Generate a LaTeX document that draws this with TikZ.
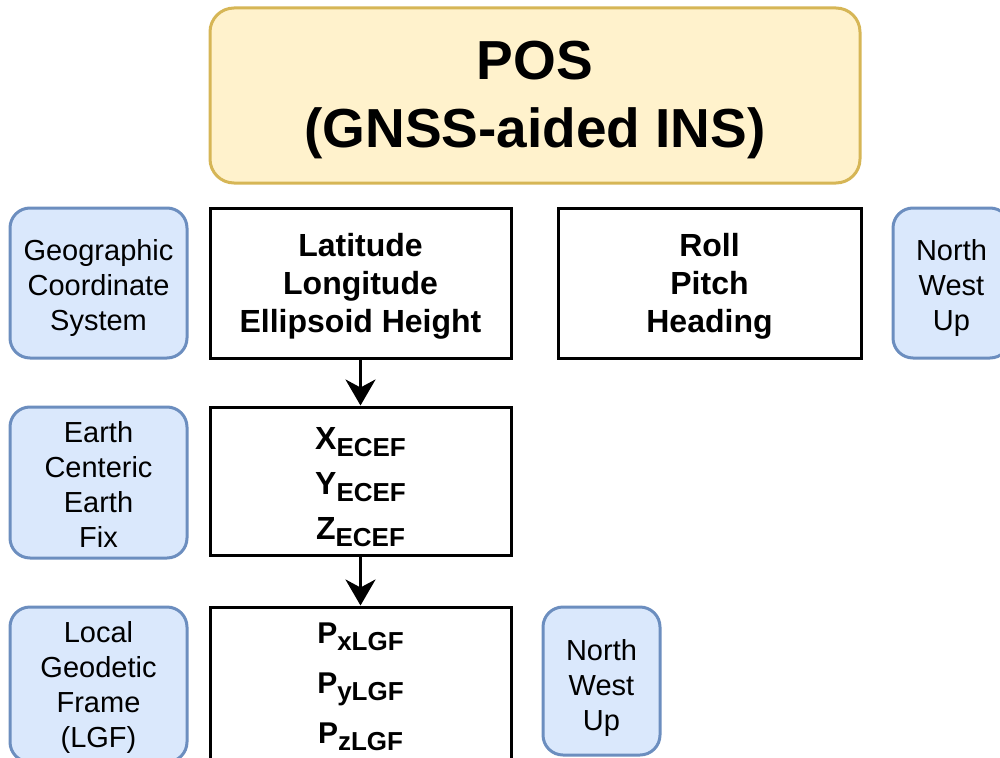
\documentclass[tikz,border=0pt]{standalone}
\usepackage{fontspec}
\setmainfont{Liberation Sans}
\usepackage{tikz}
\usetikzlibrary{arrows.meta}

\definecolor{posfill}{HTML}{FFF2CC}
\definecolor{posline}{HTML}{D6B656}
\definecolor{reffill}{HTML}{DAE8FC}
\definecolor{refline}{HTML}{6C8EBF}

\newcommand{\subx}[1]{\raisebox{-7pt}{\fontsize{26}{26}\selectfont #1}}
\newcommand{\lift}[1]{\rule{0pt}{#1}}

\tikzset{
  posbox/.style={draw=posline, fill=posfill, line width=3pt, rounded corners=24pt,
    minimum width=650pt, minimum height=175pt, inner sep=0pt, align=center,
    font=\bfseries\fontsize{55}{68}\selectfont},
  refbox/.style={draw=refline, fill=reffill, line width=3pt, rounded corners=20pt,
    minimum width=177pt, inner sep=0pt, align=center,
    font=\fontsize{29}{35}\selectfont},
  databox/.style={draw=black, line width=3pt, minimum width=301pt, inner sep=0pt,
    align=center, font=\bfseries\fontsize{32}{38}\selectfont},
  flow/.style={line width=3pt, -{Stealth[length=26pt,width=30pt,inset=8pt]}}
}

\begin{document}
\begin{tikzpicture}[x=1pt,y=-1pt]

\useasboundingbox (0,0) rectangle (1000,757);
\clip (0,0) rectangle (1000,757);

\node[posbox] (pos) at (535,95.5) {\lift{48pt}POS\\(GNSS-aided INS)};

% geographic row
\node[refbox, minimum height=150pt] (geo) at (98.5,283) {\lift{31pt}Geographic\\Coordinate\\System};
\node[databox, minimum height=150pt] (lla) at (360.5,283) {\lift{30pt}Latitude\\Longitude\\Ellipsoid Height};
\node[databox, minimum height=150pt, minimum width=303pt] (rph) at (709.5,283) {\lift{30pt}Roll\\Pitch\\Heading};
\node[refbox, minimum height=150pt, minimum width=117pt] (nwua) at (951.5,283) {\lift{31pt}North\\West\\Up};

% ecef row
\node[refbox, minimum height=151pt] (ecf) at (98.5,482.5) {\lift{25pt}Earth\\Centeric\\Earth\\Fix};
\node[databox, minimum height=148pt, font=\bfseries\fontsize{32}{45}\selectfont] (ecef) at (360.5,481)
  {\lift{34pt}X\subx{ECEF}\\Y\subx{ECEF}\\Z\subx{ECEF}};

% lgf row
\node[refbox, minimum height=155pt] (lgf) at (98.5,684.5) {\lift{27pt}Local\\Geodetic\\Frame\\(LGF)};
\node[databox, minimum height=160pt, font=\bfseries\fontsize{30}{50}\selectfont] (plgf) at (360.5,687)
  {P\subx{xLGF}\\P\subx{yLGF}\\P\subx{zLGF}};
\node[refbox, minimum height=148pt, minimum width=117pt] (nwub) at (601.5,681) {\lift{35pt}North\\West\\Up};

\draw[flow] (lla) -- (ecef);
\draw[flow] (ecef) -- (plgf);

\end{tikzpicture}
\end{document}
